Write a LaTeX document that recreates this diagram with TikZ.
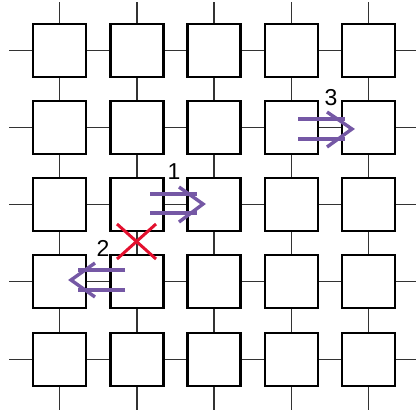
\documentclass[tikz,border=0pt]{standalone}
\usepackage{fontspec}
\setmainfont{Liberation Sans}
\definecolor{arrowpurple}{HTML}{7558A5}
\definecolor{xred}{HTML}{E3102E}
\begin{document}
\begin{tikzpicture}[x=1pt,y=-1pt,
  tile/.style={draw=black,line width=2.4pt,fill=white,minimum size=53pt,inner sep=0pt},
  link/.style={draw=black!80,line width=1.3pt},
  flow/.style={draw=arrowpurple,line width=3.4pt},
  lbl/.style={font=\fontsize{23}{23}\selectfont,inner sep=0pt}]
\useasboundingbox (0,0) rectangle (416,413);
% links behind tiles
\foreach \i/\x in {1/59.5,2/137,3/214,4/291.5,5/368.5}{
  \coordinate (top\i) at (\x,2);
  \coordinate (bot\i) at (\x,410);
  \draw[link] (top\i) -- (bot\i);
}
\foreach \j/\y in {1/50.5,2/127.5,3/204.5,4/281.5,5/359.5}{
  \coordinate (lft\j) at (9,\y);
  \coordinate (rgt\j) at (416,\y);
  \draw[link] (lft\j) -- (rgt\j);
}
\foreach \i/\x in {1/59.5,2/137,3/214,4/291.5,5/368.5}{
  \foreach \j/\y in {1/50.5,2/127.5,3/204.5,4/281.5,5/359.5}{
    \node[tile] (t\i\j) at (\x,\y) {};
  }
}
% arrow 1
\coordinate (a1s) at (150,194);
\coordinate (a1e) at (197,194);
\coordinate (a1s2) at (150,213);
\coordinate (a1e2) at (197,213);
\coordinate (a1u) at (179,187);
\coordinate (a1t) at (203,204);
\coordinate (a1d) at (179,222);
\draw[flow] (a1s) -- (a1e);
\draw[flow] (a1s2) -- (a1e2);
\draw[flow] (a1u) -- (a1t) -- (a1d);
\node[lbl] (l1) at (174,172) {1};
% arrow 3
\coordinate (a3s) at (298,119);
\coordinate (a3e) at (345,119);
\coordinate (a3s2) at (298,139);
\coordinate (a3e2) at (345,139);
\coordinate (a3u) at (327,112);
\coordinate (a3t) at (352,129);
\coordinate (a3d) at (327,147);
\draw[flow] (a3s) -- (a3e);
\draw[flow] (a3s2) -- (a3e2);
\draw[flow] (a3u) -- (a3t) -- (a3d);
\node[lbl] (l3) at (331,98) {3};
% arrow 2
\coordinate (a2s) at (125,270);
\coordinate (a2e) at (78,270);
\coordinate (a2s2) at (125,290);
\coordinate (a2e2) at (78,290);
\coordinate (a2u) at (95,263);
\coordinate (a2t) at (71,280);
\coordinate (a2d) at (95,297);
\draw[flow] (a2s) -- (a2e);
\draw[flow] (a2s2) -- (a2e2);
\draw[flow] (a2u) -- (a2t) -- (a2d);
\node[lbl] (l2) at (103,248) {2};
% red X
\coordinate (x1) at (117,224);
\coordinate (x2) at (156,259);
\coordinate (x3) at (156,224);
\coordinate (x4) at (117,259);
\draw[xred,line width=3pt] (x1) -- (x2);
\draw[xred,line width=3pt] (x3) -- (x4);
\end{tikzpicture}
\end{document}
